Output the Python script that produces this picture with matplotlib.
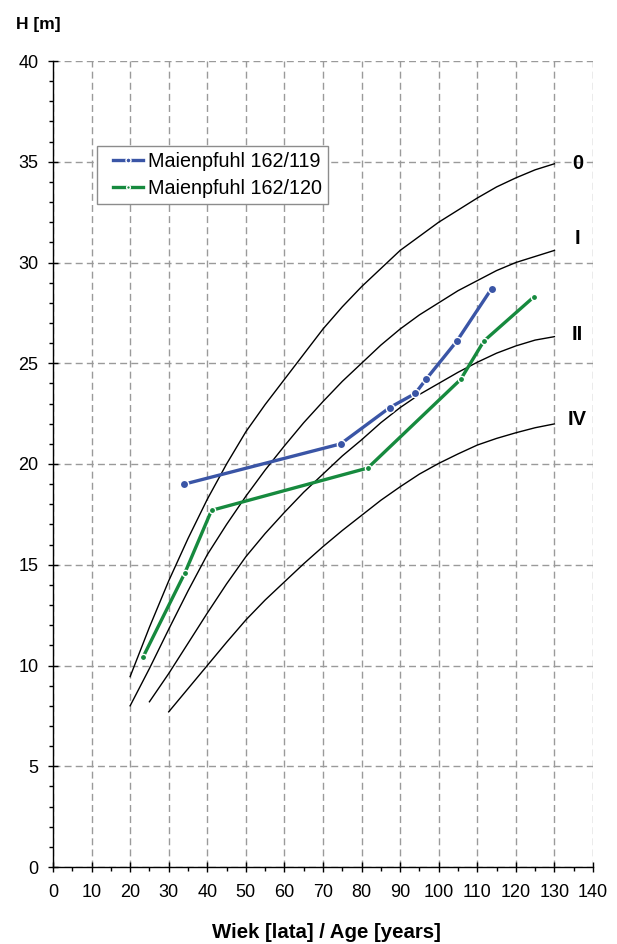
import matplotlib
matplotlib.use("Agg")
import matplotlib.pyplot as plt
from matplotlib.ticker import MultipleLocator
from matplotlib.legend_handler import HandlerLine2D

plt.rcParams['font.family'] = ['Liberation Sans', 'DejaVu Sans']

# Site-index (bonitation) curves, read every 5 years
age_0 = [20, 25, 30, 35, 40, 45, 50, 55, 60, 65, 70, 75, 80, 85, 90, 95, 100, 105, 110, 115, 120, 125, 130]
h_0 = [9.45, 11.9, 14.2, 16.3, 18.25, 20.0, 21.6, 22.95, 24.2, 25.45, 26.7, 27.8, 28.8, 29.7, 30.6, 31.3,
       32.0, 32.6, 33.2, 33.75, 34.2, 34.6, 34.9]
age_I = [20, 25, 30, 35, 40, 45, 50, 55, 60, 65, 70, 75, 80, 85, 90, 95, 100, 105, 110, 115, 120, 125, 130]
h_I = [8.0, 9.85, 11.8, 13.7, 15.5, 17.0, 18.4, 19.7, 20.9, 22.05, 23.1, 24.1, 25.0, 25.9, 26.7, 27.4,
       28.0, 28.6, 29.1, 29.6, 30.0, 30.3, 30.6]
age_II = [25, 30, 35, 40, 45, 50, 55, 60, 65, 70, 75, 80, 85, 90, 95, 100, 105, 110, 115, 120, 125, 130]
h_II = [8.2, 9.6, 11.1, 12.6, 14.05, 15.4, 16.55, 17.6, 18.6, 19.5, 20.4, 21.2, 22.05, 22.8, 23.45,
        24.0, 24.55, 25.05, 25.5, 25.86, 26.15, 26.32]
age_IV = [30, 35, 40, 45, 50, 55, 60, 65, 70, 75, 80, 85, 90, 95, 100, 105, 110, 115, 120, 125, 130]
h_IV = [7.7, 8.85, 10.0, 11.15, 12.26, 13.25, 14.15, 15.05, 15.9, 16.7, 17.45, 18.2, 18.87, 19.5,
        20.03, 20.5, 20.94, 21.27, 21.55, 21.8, 21.99]

curve_labels = ["0", "I", "II", "IV"]
curve_label_y = [34.9, 31.2, 26.45, 22.2]

# Measured series
series_names = ["Maienpfuhl 162/119", "Maienpfuhl 162/120"]
age_119 = [34, 74.6, 87.3, 93.9, 96.7, 104.7, 113.7]
h_119 = [19.0, 21.0, 22.8, 23.5, 24.2, 26.1, 28.7]
age_120 = [23.3, 34.2, 41.1, 81.6, 105.7, 111.7, 124.7]
h_120 = [10.4, 14.6, 17.7, 19.8, 24.2, 26.1, 28.3]

x_ticks = list(range(0, 141, 10))
y_ticks = list(range(0, 41, 5))


class ShortLineHandler(HandlerLine2D):
    def __init__(self, offset, **kw):
        super().__init__(**kw)
        self.offset = offset

    def create_artists(self, legend, orig_handle, xdescent, ydescent, width, height, fontsize, trans):
        return super().create_artists(legend, orig_handle, xdescent - self.offset, ydescent,
                                      width - self.offset, height, fontsize, trans)


fig = plt.figure(figsize=(6.17, 9.44), dpi=100)
ax = fig.add_axes([53/617, 77/944, 540/617, 806/944])

ax.set_xlim(0, 140)
ax.set_ylim(0, 40)
ax.set_xticks(x_ticks)
ax.set_yticks(y_ticks)
ax.xaxis.set_minor_locator(MultipleLocator(5))
ax.yaxis.set_minor_locator(MultipleLocator(1))
ax.grid(True, which='major', color='#9a9a9a', linestyle=(0, (5, 3)), linewidth=1.0)
ax.set_axisbelow(True)
for s in ['top', 'right']:
    ax.spines[s].set_visible(False)
for s in ['left', 'bottom']:
    ax.spines[s].set_linewidth(1.0)
    ax.spines[s].set_zorder(5)

ax.tick_params(axis='x', which='major', direction='inout', length=7, width=1, labelsize=13, pad=9)
ax.tick_params(axis='x', which='minor', direction='out', length=3, width=1)
ax.tick_params(axis='y', which='major', direction='inout', length=7, width=1, labelsize=13, pad=7)
ax.tick_params(axis='y', which='minor', direction='out', length=3, width=1)

for a, h in [(age_0, h_0), (age_I, h_I), (age_II, h_II), (age_IV, h_IV)]:
    ax.plot(a, h, color='black', linewidth=1.0, zorder=3)

for lab, yv in zip(curve_labels, curve_label_y):
    ax.text(136, yv, lab, fontsize=14.5, fontweight='bold', ha='center', va='center', zorder=4)

l1, = ax.plot(age_119, h_119, color='#3a55a6', linewidth=2.4, marker='o', markersize=6,
              markerfacecolor='#3a55a6', markeredgecolor='white', markeredgewidth=1.0,
              label=series_names[0], zorder=4)
l2, = ax.plot(age_120, h_120, color='#168a3e', linewidth=2.4, marker='o', markersize=4.5,
              markerfacecolor='#168a3e', markeredgecolor='white', markeredgewidth=1.0,
              label=series_names[1], zorder=4)

leg = ax.legend(handles=[l1, l2], loc='upper left', bbox_to_anchor=(0.0815, 0.8945), borderaxespad=0,
                fontsize=14.2, frameon=True, fancybox=False, framealpha=1,
                edgecolor='#8c8c8c', handlelength=2.05, labelspacing=0.42,
                borderpad=0.3, handletextpad=0.25, markerscale=0.6,
                handler_map={l1: ShortLineHandler(7.0), l2: ShortLineHandler(7.0)})
leg.get_frame().set_linewidth(1.0)
leg.set_zorder(6)

fig.text(16/617, 1 - 25/944, "H [m]", fontsize=12.5, fontweight='bold', ha='left', va='center')
fig.text(326/617, 1 - 933/944, "Wiek [lata] / Age [years]", fontsize=14.7, fontweight='bold',
         ha='center', va='center')

fig.savefig("out.png", dpi=100)
